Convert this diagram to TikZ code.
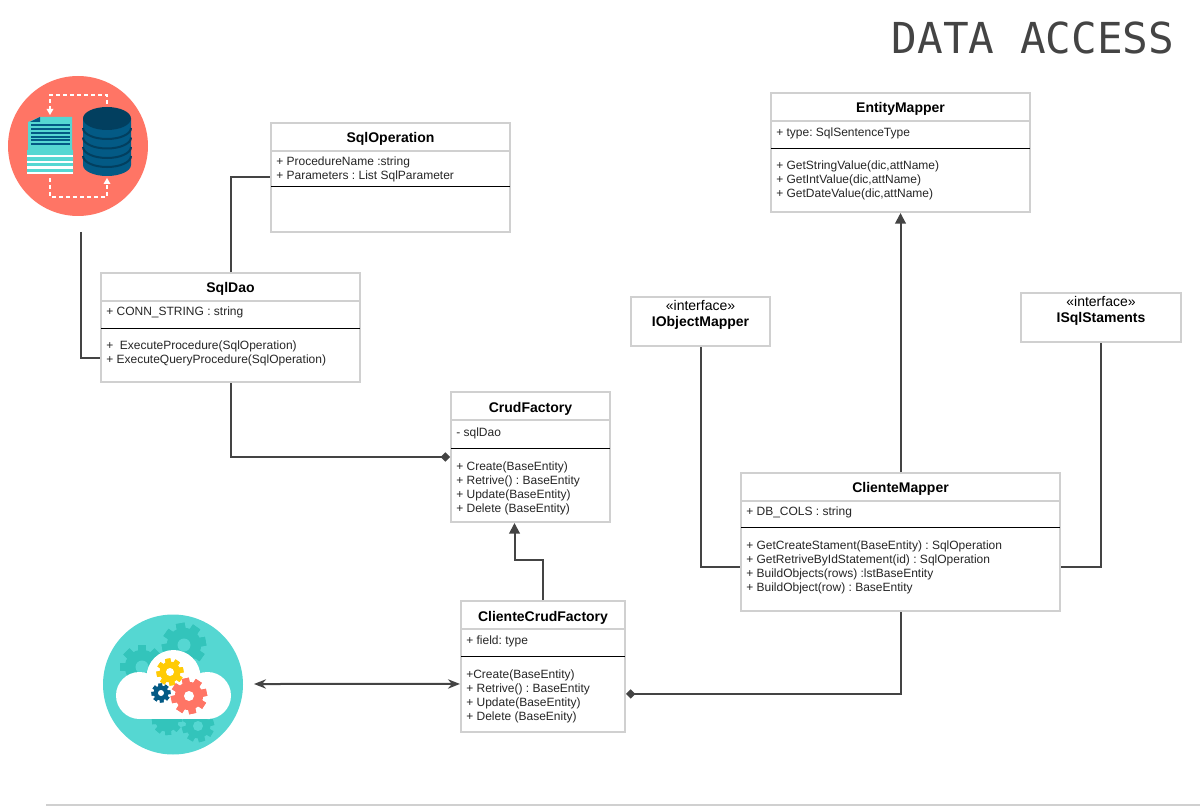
\documentclass[tikz,border=0pt]{standalone}
\usepackage{fontspec}
\setmainfont{Liberation Sans}
\newfontfamily\titlefont{DejaVu Sans Mono}
\usetikzlibrary{arrows.meta}
\definecolor{boxgray}{HTML}{D0D0D0}
\definecolor{linegray}{HTML}{444444}
\definecolor{coral}{HTML}{FF7565}
\definecolor{teal}{HTML}{55D7D2}
\definecolor{darkteal}{HTML}{33C4BB}
\definecolor{dbblue}{HTML}{035A85}
\definecolor{dbdark}{HTML}{023F5F}
\definecolor{gearyellow}{HTML}{FFCB05}
\def\px{0.75pt}
\newcommand{\drawgear}[5]{%
  \foreach \toothangle in {0,45,...,315}
    \fill[#4,rotate around={\toothangle+#5:(#1,#2)}] (#1-#3*0.2,#2-#3) rectangle (#1+#3*0.2,#2+#3);
  \fill[#4] (#1,#2) circle (#3*0.78);
}
\tikzset{
  classbox/.style={draw=boxgray,line width=2*\px,fill=white,inner sep=0pt},
  classname/.style={inner sep=0pt,yshift=-0.75pt,font=\fontsize{10.5}{12}\selectfont\bfseries},
  members/.style={inner sep=0pt,yshift=-0.75pt,anchor=west,align=left,font=\frenchspacing\fontsize{9}{10.5}\selectfont,text=black!85},
  stereotype/.style={inner sep=0pt,yshift=-0.75pt,align=center,font=\fontsize{10.5}{12}\selectfont},
  headline/.style={draw=boxgray,line width=2*\px},
  divider/.style={draw=black,line width=1*\px},
  conn/.style={draw=linegray,line width=2*\px},
  dashloop/.style={draw=white,line width=2*\px,dash pattern=on 4*\px off 3*\px},
  solidtip/.tip={Triangle[length=8pt,width=8pt]},
  opentip/.tip={Stealth[length=9pt,width=7pt]},
  diamondtip/.tip={Diamond[length=7pt,width=7pt]},
}
\begin{document}
\begin{tikzpicture}[x=\px,y=-\px,>=Latex]
\useasboundingbox (0,0) rectangle (1200,806);
%% title
\node (titleText) at (1033,38) [inner sep=0pt,text=linegray,font=\fontsize{32}{36}\selectfont\titlefont] {DATA ACCESS};
\draw[draw=boxgray,line width=1.5*\px] (46,805) -- (1200,805);
%% database icon
\fill[coral] (78,146) circle (70);
\draw[dashloop] (50,110) -- (50,95) -- (107,95) -- (107,106);
\draw[dashloop] (50,178) -- (50,197) -- (107,197) -- (107,184);
\fill[white] (46.5,109) -- (53.5,109) -- (50,115) -- cycle;
\fill[white] (103.5,184) -- (110.5,184) -- (107,178) -- cycle;
\fill[teal] (28,122) -- (40,117) -- (72,117) -- (72,150) -- (73,150) -- (73,174) -- (27,174) -- (27,150) -- (28,150) -- cycle;
\fill[dbblue] (30,122) -- (40,117) -- (40,122) -- cycle;
\foreach \ystripe in {155,161,166.5,172}
  \fill[white] (27,\ystripe) rectangle (73,\ystripe+2.5);
\foreach \yline in {124,128,132,136,139,143}
  \fill[dbblue] (30.5,\yline) rectangle (70,\yline+2);
\fill[dbblue] (83,118.5) -- (83,165) arc[start angle=180,end angle=0,x radius=24,y radius=11] -- (131,118.5) -- cycle;
\foreach \yband in {128,137.5,147,156}
  \draw[dbdark,line width=2*\px] (83,\yband) arc[start angle=180,end angle=0,x radius=24,y radius=11];
\fill[dbdark] (107,118.5) ellipse (24 and 11.5);
%% cloud icon
\fill[teal] (173,684.5) circle (70);
\drawgear{184}{645}{22}{darkteal}{10}
\drawgear{142}{667}{22}{darkteal}{0}
\drawgear{198}{726}{16}{darkteal}{15}
\drawgear{167}{720}{15}{darkteal}{5}
\fill[teal] (184,645) circle (6.5);
\fill[teal] (142,667) circle (6.5);
\fill[teal] (198,726) circle (5);
\fill[white] (139.5,695.5) circle (23.5);
\fill[white] (207.5,695.5) circle (23.5);
\fill[white] (173.5,677) circle (27);
\fill[white] (139.5,680) rectangle (207.5,719);
\drawgear{170}{672}{13.5}{gearyellow}{10}
\fill[white] (170,672) circle (4);
\drawgear{161}{693}{9.5}{dbblue}{5}
\fill[white] (161,693) circle (3);
\drawgear{189}{696}{18}{coral}{12}
\fill[white] (189,696) circle (5);
%% classes
\node (sqlOperation) at (390.5,177.5) [classbox,minimum width=239*\px,minimum height=109*\px] {};
\node (sqlDao) at (230.5,327.5) [classbox,minimum width=259*\px,minimum height=109*\px] {};
\node (crudFactory) at (530.5,457) [classbox,minimum width=159*\px,minimum height=130*\px] {};
\node (clienteCrudFactory) at (543,666.5) [classbox,minimum width=164*\px,minimum height=131*\px] {};
\node (clienteMapper) at (900.5,542) [classbox,minimum width=319*\px,minimum height=138*\px] {};
\node (entityMapper) at (900.5,152.5) [classbox,minimum width=259*\px,minimum height=119*\px] {};
\node (iObjectMapper) at (700.5,321.5) [classbox,minimum width=139*\px,minimum height=49*\px] {};
\node (iSqlStaments) at (1101,317.5) [classbox,minimum width=160*\px,minimum height=49*\px] {};
%
\draw[headline] (271,151) -- (510,151);
\draw[divider] (271,186.5) -- (510,186.5);
\draw[headline] (101,301) -- (360,301);
\draw[divider] (101,328.5) -- (360,328.5);
\draw[headline] (451,420) -- (610,420);
\draw[divider] (451,448.5) -- (610,448.5);
\draw[headline] (461,629) -- (625,629);
\draw[divider] (461,656.5) -- (625,656.5);
\draw[headline] (741,501) -- (1060,501);
\draw[divider] (741,527.5) -- (1060,527.5);
\draw[headline] (771,121) -- (1030,121);
\draw[divider] (771,148.5) -- (1030,148.5);
%
\node (sqlOperationName) at (390.5,138) [classname] {SqlOperation};
\node (sqlOperationAttrs) at (276,168) [members] {+ ProcedureName :string\\+ Parameters : List SqlParameter};
\node (sqlDaoName) at (230.5,288) [classname] {SqlDao};
\node (sqlDaoAttrs) at (106,311) [members] {+ CONN\_STRING : string};
\node (sqlDaoOps) at (106,352) [members] {+\ \ ExecuteProcedure(SqlOperation)\\+ ExecuteQueryProcedure(SqlOperation)};
\node (crudFactoryName) at (530.5,408) [classname] {CrudFactory};
\node (crudFactoryAttrs) at (456,432) [members] {- sqlDao};
\node (crudFactoryOps) at (456,487) [members] {+ Create(BaseEntity)\\+ Retrive() : BaseEntity\\+ Update(BaseEntity)\\+ Delete (BaseEntity)};
\node (clienteCrudFactoryName) at (543,617) [classname] {ClienteCrudFactory};
\node (clienteCrudFactoryAttrs) at (466,640) [members] {+ field: type};
\node (clienteCrudFactoryOps) at (466,695) [members] {+Create(BaseEntity)\\+ Retrive() : BaseEntity\\+ Update(BaseEntity)\\+ Delete (BaseEnity)};
\node (clienteMapperName) at (900.5,488) [classname] {ClienteMapper};
\node (clienteMapperAttrs) at (746,511) [members] {+ DB\_COLS : string};
\node (clienteMapperOps) at (746,566) [members] {+ GetCreateStament(BaseEntity) : SqlOperation\\+ GetRetriveByIdStatement(id) : SqlOperation\\+ BuildObjects(rows) :lstBaseEntity\\+ BuildObject(row) : BaseEntity};
\node (entityMapperName) at (900.5,108) [classname] {EntityMapper};
\node (entityMapperAttrs) at (776,132) [members] {+ type: SqlSentenceType};
\node (entityMapperOps) at (776,179) [members] {+ GetStringValue(dic,attName)\\+ GetIntValue(dic,attName)\\+ GetDateValue(dic,attName)};
\node (iObjectMapperText) at (700.5,314) [stereotype] {«interface»\\\textbf{IObjectMapper}};
\node (iSqlStamentsText) at (1101,310) [stereotype] {«interface»\\\textbf{ISqlStaments}};
%% connectors
\coordinate (dbIconFoot) at (81,232);
\coordinate (cloudIconSide) at (254,684);
\draw[conn] (dbIconFoot) |- ([yshift=-22.5pt]sqlDao.west);
\draw[conn] (sqlDao.north) |- (sqlOperation.west);
\draw[conn,diamondtip-] (crudFactory.west) -| (sqlDao.south);
\draw[conn,-solidtip] (clienteCrudFactory.north) -- ++(0,-40) -| ([xshift=-12pt]crudFactory.south);
\draw[conn,opentip-opentip] (cloudIconSide) -- ([yshift=-13.1pt]clienteCrudFactory.west);
\draw[conn,diamondtip-] ([yshift=-20.6pt]clienteCrudFactory.east) -| (clienteMapper.south);
\draw[conn,-solidtip] (clienteMapper.north) -- (entityMapper.south);
\draw[conn] (iObjectMapper.south) |- ([yshift=-18.75pt]clienteMapper.west);
\draw[conn] (iSqlStaments.south) |- ([yshift=-18.75pt]clienteMapper.east);
\end{tikzpicture}
\end{document}
